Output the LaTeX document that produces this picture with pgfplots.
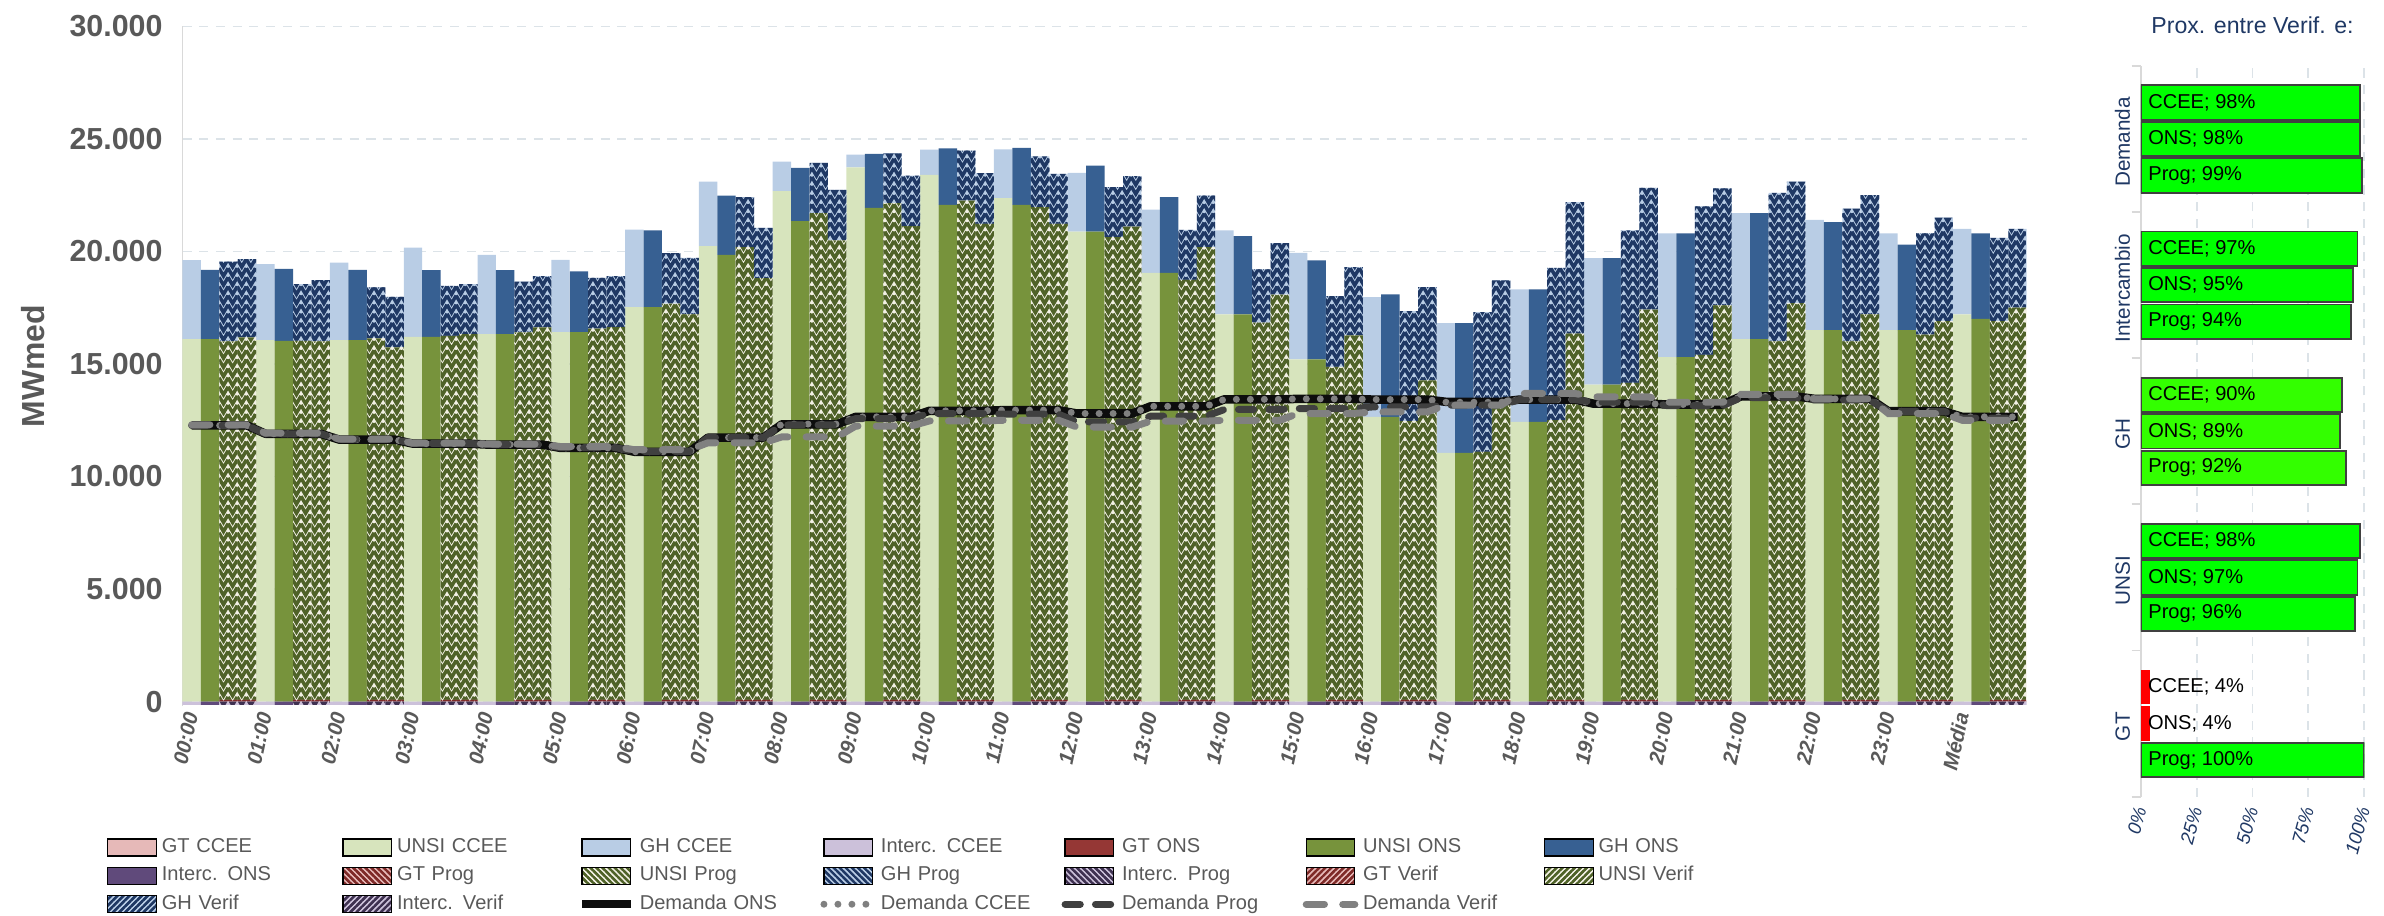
\documentclass[border=0pt]{standalone}
\usepackage{fontspec}
\setmainfont{Liberation Sans}
\usepackage{pgfplots}
\pgfplotsset{compat=1.18}
\usepackage{pgfplotstable}
\usetikzlibrary{patterns}

\definecolor{gtC}{HTML}{E6B9B8}
\definecolor{unsiC}{HTML}{D7E4BD}
\definecolor{ghC}{HTML}{B9CDE5}
\definecolor{intC}{HTML}{CCC1DA}
\definecolor{gtO}{HTML}{953735}
\definecolor{unsiO}{HTML}{77933C}
\definecolor{ghO}{HTML}{376092}
\definecolor{intO}{HTML}{604A7B}
\definecolor{gtPf}{HTML}{7F2A28}
\definecolor{unsiPf}{HTML}{4F6228}
\definecolor{unsiPb}{HTML}{F2F0E4}
\definecolor{ghPf}{HTML}{1F3864}
\definecolor{intPf}{HTML}{3F3151}
\definecolor{tickgray}{HTML}{595959}
\definecolor{gridcol}{HTML}{DCE3E8}
\definecolor{axisgray}{HTML}{D9D9D9}
\definecolor{navy}{HTML}{1F3864}
\definecolor{okgreen}{HTML}{00FF00}
\definecolor{midgreen}{HTML}{33FF00}
\definecolor{badred}{HTML}{FF0000}
\definecolor{barline}{HTML}{404040}

% herringbone-like fill for the Prog / Verif bars
\pgfdeclarepatternformonly{chev}{\pgfqpoint{-0.6pt}{-0.6pt}}{\pgfqpoint{3.6pt}{3.6pt}}{\pgfqpoint{3pt}{3pt}}{%
  \pgfsetlinewidth{1.15pt}
  \pgfpathmoveto{\pgfqpoint{0pt}{3pt}}
  \pgfpathlineto{\pgfqpoint{1.5pt}{0.4pt}}
  \pgfpathlineto{\pgfqpoint{3pt}{3pt}}
  \pgfusepath{stroke}}
\pgfdeclarepatternformonly{hatchA}{\pgfqpoint{-1pt}{-1pt}}{\pgfqpoint{3pt}{3pt}}{\pgfqpoint{2pt}{2pt}}{%
  \pgfsetlinewidth{0.75pt}
  \pgfpathmoveto{\pgfqpoint{-1pt}{3pt}}
  \pgfpathlineto{\pgfqpoint{3pt}{-1pt}}
  \pgfusepath{stroke}}
\pgfdeclarepatternformonly{hatchB}{\pgfqpoint{-1pt}{-1pt}}{\pgfqpoint{3pt}{3pt}}{\pgfqpoint{2pt}{2pt}}{%
  \pgfsetlinewidth{0.75pt}
  \pgfpathmoveto{\pgfqpoint{-1pt}{-1pt}}
  \pgfpathlineto{\pgfqpoint{3pt}{3pt}}
  \pgfusepath{stroke}}

% h = hour (24 = Media); gt, unsi, gh = stacked layers; int = Interc.
\pgfplotstableread{
h gt unsi gh int
0 0 16106 3505 -150
1 0 16062 3372 -150
2 0 16062 3447 -150
3 0 16210 3963 -150
4 0 16328 3520 -150
5 0 16421 3209 -150
6 0 17530 3446 -150
7 0 20237 2869 -150
8 0 22677 1316 -150
9 0 23742 562 -150
10 0 23402 1124 -150
11 0 22366 2175 -150
12 0 20887 2603 -150
13 0 19053 2811 -150
14 0 17205 3727 -150
15 0 15208 4733 -150
16 0 12649 5325 -150
17 0 11052 5768 -150
18 0 12428 5886 -150
19 0 14084 5620 -150
20 0 15300 5500 -150
21 0 16100 5600 -150
22 0 16500 4900 -150
23 0 16500 4300 -150
24 0 17200 3800 -150
}\tccee

\pgfplotstableread{
h gt unsi gh int
0 0 16106 3076 -150
1 0 16032 3194 -150
2 0 16062 3120 -150
3 0 16210 2958 -150
4 0 16328 2840 -150
5 0 16421 2692 -150
6 0 17530 3402 -150
7 0 19852 2633 -150
8 0 21346 2366 -150
9 0 21937 2397 -150
10 0 22071 2514 -150
11 0 22071 2529 -150
12 0 20887 2929 -150
13 0 19053 3358 -150
14 0 17205 3475 -150
15 0 15208 4393 -150
16 0 12649 5443 -150
17 0 11052 5768 -150
18 0 12428 5886 -150
19 0 14084 5620 -150
20 0 15300 5500 -150
21 0 16100 5600 -150
22 0 16500 4800 -150
23 0 16500 3800 -150
24 0 17000 3800 -150
}\tons

\pgfplotstableread{
h gt unsi gh int
0 80 15924 3549 -150
1 80 15952 2515 -150
2 80 16056 2263 -150
3 80 16174 2219 -150
4 80 16322 2263 -150
5 80 16489 2263 -150
6 80 17598 2248 -150
7 80 20112 2219 -150
8 80 21621 2233 -150
9 80 22065 2218 -150
10 80 22183 2219 -150
11 80 21887 2263 -150
12 80 20556 2219 -150
13 80 18663 2218 -150
14 80 16755 2366 -150
15 80 14788 3150 -150
16 80 12377 4896 -150
17 80 11016 6212 -150
18 80 12421 6774 -150
19 80 14078 6774 -150
20 80 15320 6600 -150
21 80 15920 6600 -150
22 80 15920 5900 -150
23 80 16220 4500 -150
24 80 16820 3700 -150
}\tprog

\pgfplotstableread{
h gt unsi gh int
0 80 16100 3476 -150
1 80 15924 2720 -150
2 80 15657 2247 -150
3 80 16248 2219 -150
4 80 16543 2279 -150
5 80 16563 2263 -150
6 80 17125 2514 -150
7 80 18737 2233 -150
8 80 20408 2248 -150
9 80 21044 2248 -150
10 80 21148 2248 -150
11 80 21148 2218 -150
12 80 21029 2234 -150
13 80 20112 2293 -150
14 80 17997 2293 -150
15 80 16193 3032 -150
16 80 14196 4141 -150
17 80 13383 5250 -150
18 80 16267 5842 -150
19 80 17332 5413 -150
20 80 17520 5200 -150
21 80 17620 5400 -150
22 80 17120 5300 -150
23 80 16820 4600 -150
24 80 17420 3500 -150
}\tverif

% demand lines: every hour is flat over its four bars
\pgfplotstableread{
x ons ccee prog verif
0.5 12270 12270 12270 12300
3.5 12270 12270 12270 12300
4.5 11900 11900 11900 11930
7.5 11900 11900 11900 11930
8.5 11640 11640 11650 11660
11.5 11640 11640 11650 11660
12.5 11460 11460 11470 11480
15.5 11460 11460 11470 11480
16.5 11420 11420 11420 11440
19.5 11420 11420 11420 11440
20.5 11270 11270 11280 11330
23.5 11270 11270 11280 11330
24.5 11100 11100 11120 11190
27.5 11100 11100 11120 11190
28.5 11730 11730 11730 11500
31.5 11730 11730 11730 11500
32.5 12320 12330 12290 11760
35.5 12320 12330 12290 11760
36.5 12650 12650 12570 12240
39.5 12650 12650 12570 12240
40.5 12920 12920 12800 12470
43.5 12920 12920 12800 12470
44.5 12950 12950 12770 12500
47.5 12950 12950 12770 12500
48.5 12800 12800 12430 12200
51.5 12800 12800 12430 12200
52.5 13120 13120 12680 12460
55.5 13120 13120 12680 12460
56.5 13430 13430 12980 12500
59.5 13430 13430 12980 12500
60.5 13450 13450 13020 12800
63.5 13450 13450 13020 12800
64.5 13420 13420 13090 12870
67.5 13420 13420 13090 12870
68.5 13320 13300 13170 13170
71.5 13320 13300 13170 13170
72.5 13420 13420 13420 13690
75.5 13420 13420 13420 13690
76.5 13240 13240 13300 13540
79.5 13240 13240 13300 13540
80.5 13200 13200 13150 13300
83.5 13200 13200 13150 13300
84.5 13560 13560 13500 13650
87.5 13560 13560 13500 13650
88.5 13450 13450 13400 13450
91.5 13450 13450 13400 13450
92.5 12900 12900 12900 12800
95.5 12900 12900 12900 12800
96.5 12650 12650 12600 12500
99.5 12650 12650 12600 12500
}\tdem

\pgfplotsset{
  base/.style={scale only axis, width=606.5pt, height=223.5pt,
    at={(60pt,69pt)}, anchor=south west,
    xmin=0, xmax=100, ymin=-200, ymax=30000},
  barax/.style={base, hide axis, ybar stacked, bar width=1},
  pat/.style 2 args={fill=#1, draw=none, postaction={pattern=chev, pattern color=#2}},
  sw/.style={legend image code/.code={\fill[#1] (0pt,-2.8pt) rectangle (16pt,2.8pt);}},
  rbar/.style={fill=#1, draw=barline, line width=0.6pt},
  rlab/.style={nodes near coords={#1; \pgfmathprintnumber{\pgfplotspointmeta}\%},
    point meta=x, visualization depends on={rawx \as \rawx},
    every node near coord/.append style={anchor=west, xshift=-\rawx*0.735pt,
      font=\fontsize{6.6}{7}\selectfont, text=black, inner xsep=2.2pt, inner ysep=0.5pt}},
}

\begin{document}
\begin{tikzpicture}
\path[use as bounding box] (0pt,0pt) rectangle (784pt,301.2pt);

% CCEE bars, grid and ticks
\begin{axis}[base, ybar stacked, bar width=1,
  axis lines*=left,
  x axis line style={draw=none},
  y axis line style={draw=axisgray, line width=0.6pt},
  major tick length=0pt,
  scaled y ticks=false,
  /pgf/number format/assume math mode=true,
  /pgf/number format/1000 sep={.},
  ytick={0,5000,...,30000},
  ymajorgrids,
  grid style={draw=gridcol, line width=0.6pt, dash pattern=on 3pt off 2.5pt},
  yticklabel style={font=\bfseries\fontsize{10}{12}\selectfont, text=tickgray, xshift=-3pt},
  xtick={0.5,4.5,...,96.5},
  xticklabels={00:00,01:00,02:00,03:00,04:00,05:00,06:00,07:00,08:00,09:00,10:00,11:00,12:00,13:00,14:00,15:00,16:00,17:00,18:00,19:00,20:00,21:00,22:00,23:00,Média},
  xticklabel shift=1.5pt,
  xticklabel style={rotate=78, anchor=east, inner sep=0.5pt, font=\bfseries\itshape\fontsize{6.8}{7}\selectfont, text=tickgray},
  ylabel={MWmed},
  ylabel style={at={(axis description cs:-0.081,0.5)}, anchor=center,
    font=\bfseries\fontsize{10.5}{12}\selectfont, text=tickgray},
]
\addplot[fill=gtC, draw=none] table[x expr=4*\thisrow{h}+0.5, y=gt] {\tccee};
\addplot[fill=unsiC, draw=none] table[x expr=4*\thisrow{h}+0.5, y=unsi] {\tccee};
\addplot[fill=ghC, draw=none] table[x expr=4*\thisrow{h}+0.5, y=gh] {\tccee};
\end{axis}

% ONS bars
\begin{axis}[barax]
\addplot[fill=gtO, draw=none] table[x expr=4*\thisrow{h}+1.5, y=gt] {\tons};
\addplot[fill=unsiO, draw=none] table[x expr=4*\thisrow{h}+1.5, y=unsi] {\tons};
\addplot[fill=ghO, draw=none] table[x expr=4*\thisrow{h}+1.5, y=gh] {\tons};
\end{axis}

% Prog bars
\begin{axis}[barax]
\addplot[pat={gtC}{gtPf}] table[x expr=4*\thisrow{h}+2.5, y=gt] {\tprog};
\addplot[pat={unsiPb}{unsiPf}] table[x expr=4*\thisrow{h}+2.5, y=unsi] {\tprog};
\addplot[pat={ghC}{ghPf}] table[x expr=4*\thisrow{h}+2.5, y=gh] {\tprog};
\end{axis}

% Verif bars
\begin{axis}[barax]
\addplot[pat={gtC}{gtPf}] table[x expr=4*\thisrow{h}+3.5, y=gt] {\tverif};
\addplot[pat={unsiPb}{unsiPf}] table[x expr=4*\thisrow{h}+3.5, y=unsi] {\tverif};
\addplot[pat={ghC}{ghPf}] table[x expr=4*\thisrow{h}+3.5, y=gh] {\tverif};
\end{axis}

% Interc. strips, demand lines and legend
\begin{axis}[base, hide axis,
  legend columns=7,
  legend image code/.code={\draw[#1] (0pt,0pt) -- (16pt,0pt);},
  legend style={at={(axis description cs:-0.0412,-0.189)}, anchor=north west,
    draw=none, fill=none, inner sep=0pt, row sep=1.1pt,
    font=\fontsize{6.6}{7.5}\selectfont, text=tickgray,
    nodes={text width=57.8pt, inner xsep=1.6pt, inner ysep=1pt, align=left}},
]
\addplot[ybar, bar width=1, bar shift=0pt, fill=intC, draw=none, forget plot] table[x expr=4*\thisrow{h}+0.5, y=int] {\tccee};
\addplot[ybar, bar width=1, bar shift=0pt, fill=intO, draw=none, forget plot] table[x expr=4*\thisrow{h}+1.5, y=int] {\tons};
\addplot[ybar, bar width=1, bar shift=0pt, pat={intC}{intPf}, forget plot] table[x expr=4*\thisrow{h}+2.5, y=int] {\tprog};
\addplot[ybar, bar width=1, bar shift=0pt, pat={intC}{intPf}, forget plot] table[x expr=4*\thisrow{h}+3.5, y=int] {\tverif};

\addlegendimage{sw={fill=gtC}}\addlegendentry{GT CCEE}
\addlegendimage{sw={fill=unsiC}}\addlegendentry{UNSI CCEE}
\addlegendimage{sw={fill=ghC}}\addlegendentry{GH CCEE}
\addlegendimage{sw={fill=intC}}\addlegendentry{Interc. CCEE}
\addlegendimage{sw={fill=gtO}}\addlegendentry{GT ONS}
\addlegendimage{sw={fill=unsiO}}\addlegendentry{UNSI ONS}
\addlegendimage{sw={fill=ghO}}\addlegendentry{GH ONS}
\addlegendimage{sw={fill=intO}}\addlegendentry{Interc. ONS}
\addlegendimage{sw={fill=gtC, postaction={pattern=hatchA, pattern color=gtPf}}}\addlegendentry{GT Prog}
\addlegendimage{sw={fill=unsiPb, postaction={pattern=hatchA, pattern color=unsiPf}}}\addlegendentry{UNSI Prog}
\addlegendimage{sw={fill=ghC, postaction={pattern=hatchA, pattern color=ghPf}}}\addlegendentry{GH Prog}
\addlegendimage{sw={fill=intC, postaction={pattern=hatchA, pattern color=intPf}}}\addlegendentry{Interc. Prog}
\addlegendimage{sw={fill=gtC, postaction={pattern=hatchB, pattern color=gtPf}}}\addlegendentry{GT Verif}
\addlegendimage{sw={fill=unsiPb, postaction={pattern=hatchB, pattern color=unsiPf}}}\addlegendentry{UNSI Verif}
\addlegendimage{sw={fill=ghC, postaction={pattern=hatchB, pattern color=ghPf}}}\addlegendentry{GH Verif}
\addlegendimage{sw={fill=intC, postaction={pattern=hatchB, pattern color=intPf}}}\addlegendentry{Interc. Verif}

\addplot[color=black!95, line width=2.8pt, line join=round] table[x=x, y=ons] {\tdem};
\addlegendentry{Demanda ONS}
\addplot[color=black!50, line width=2.3pt, line cap=round, dash pattern=on 0pt off 4.6pt] table[x=x, y=ccee] {\tdem};
\addlegendentry{Demanda CCEE}
\addplot[color=black!75, line width=2.3pt, line cap=round, dash pattern=on 5pt off 5pt] table[x=x, y=prog] {\tdem};
\addlegendentry{Demanda Prog}
\addplot[color=black!50, line width=2.3pt, line cap=round, dash pattern=on 6pt off 6pt] table[x=x, y=verif] {\tdem};
\addlegendentry{Demanda Verif}
\end{axis}

% proximity panel
\begin{axis}[at={(704pt,39.2pt)}, anchor=south west, scale only axis,
  width=73.5pt, height=240.3pt,
  xmin=0, xmax=100, ymin=-0.5, ymax=4.5,
  xbar, bar width=0.235,
  axis lines*=left,
  x axis line style={draw=none},
  y axis line style={draw=axisgray, line width=0.6pt},
  /pgf/number format/assume math mode=true,
  xtick={0,25,...,100},
  xticklabel={\pgfmathprintnumber{\tick}\%},
  xticklabel shift=3pt,
  xticklabel style={rotate=75, anchor=east, inner sep=0.3pt, font=\itshape\fontsize{6.2}{7}\selectfont, text=navy},
  xmajorgrids,
  grid style={draw=gridcol, line width=0.6pt, dash pattern=on 3pt off 2.5pt},
  ytick={0,...,4},
  yticklabels={GT,UNSI,GH,Intercambio,Demanda},
  yticklabel style={rotate=90, anchor=south, font=\fontsize{6.8}{8}\selectfont, text=navy, xshift=-1pt},
  major tick length=0pt,
  minor ytick={-0.5,0.5,...,4.5},
  minor tick length=3pt, tick align=outside,
  minor tick style={draw=axisgray, line width=0.6pt},
  title={Prox. entre Verif. e:},
  title style={at={(0.5,1)}, anchor=center, yshift=7.3pt,
    font=\fontsize{7.6}{9}\selectfont, text=navy},
]
\addplot[rbar=okgreen, bar shift=0.25, rlab=CCEE] coordinates {(98,4) (97,3) (98,1)};
\addplot[rbar=midgreen, bar shift=0.25, rlab=CCEE] coordinates {(90,2)};
\addplot[fill=badred, draw=none, bar shift=0.25, rlab=CCEE] coordinates {(4,0)};
\addplot[rbar=okgreen, bar shift=0, rlab=ONS] coordinates {(98,4) (95,3) (97,1)};
\addplot[rbar=midgreen, bar shift=0, rlab=ONS] coordinates {(89,2)};
\addplot[fill=badred, draw=none, bar shift=0, rlab=ONS] coordinates {(4,0)};
\addplot[rbar=okgreen, bar shift=-0.25, rlab=Prog] coordinates {(99,4) (94,3) (96,1) (100,0)};
\addplot[rbar=midgreen, bar shift=-0.25, rlab=Prog] coordinates {(92,2)};
\end{axis}
\end{tikzpicture}
\end{document}
